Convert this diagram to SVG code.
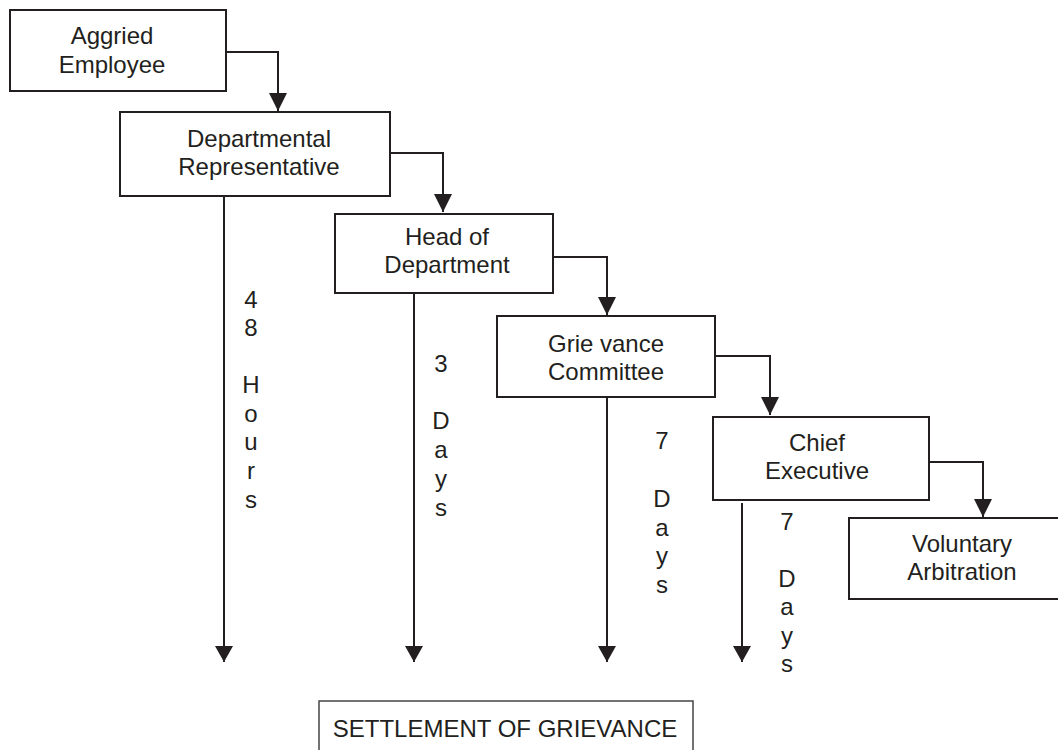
<svg xmlns="http://www.w3.org/2000/svg" width="1058" height="750" viewBox="0 0 1058 750">
<style>
.box{fill:#fff;stroke:#231f20;stroke-width:2}
.lbl{font-family:"Liberation Sans",Arial,sans-serif;font-size:24px;fill:#231f20;text-anchor:middle}
.conn{fill:none;stroke:#231f20;stroke-width:2}
</style>
<defs>
<marker id="ah" markerUnits="userSpaceOnUse" markerWidth="20" markerHeight="20" viewBox="0 0 20 20" refX="19" refY="10" orient="auto">
<path d="M1,1 L19,10 L1,19 Z" fill="#231f20"/>
</marker>
<marker id="av" markerUnits="userSpaceOnUse" markerWidth="18" markerHeight="18" viewBox="0 0 16 18" refX="16" refY="9" orient="auto">
<path d="M0,0 L16,9 L0,18 Z" fill="#231f20"/>
</marker>
</defs>
<rect width="1058" height="750" fill="#fff"/>
<g id="connectors">
<path class="conn" d="M226,52 H278 V111" marker-end="url(#ah)"/>
<path class="conn" d="M390,153 H443 V212" marker-end="url(#ah)"/>
<path class="conn" d="M553,257 H607 V315" marker-end="url(#ah)"/>
<path class="conn" d="M715,356 H770 V415" marker-end="url(#ah)"/>
<path class="conn" d="M929,462 H983 V517" marker-end="url(#ah)"/>
<path class="conn" d="M224,196 V662" marker-end="url(#av)"/>
<path class="conn" d="M414,293 V662" marker-end="url(#av)"/>
<path class="conn" d="M607,397 V662" marker-end="url(#av)"/>
<path class="conn" d="M742,503 V662" marker-end="url(#av)"/>
</g>
<g id="n1">
<rect class="box" x="10" y="10" width="216" height="81"/>
<text class="lbl" x="112" y="44">Aggried</text>
<text class="lbl" x="112" y="73">Employee</text>
</g>
<g id="n2">
<rect class="box" x="120" y="112" width="270" height="84"/>
<text class="lbl" x="259" y="147">Departmental</text>
<text class="lbl" x="259" y="175">Representative</text>
</g>
<g id="n3">
<rect class="box" x="335" y="214" width="218" height="79"/>
<text class="lbl" x="447" y="245">Head of</text>
<text class="lbl" x="447" y="273">Department</text>
</g>
<g id="n4">
<rect class="box" x="497" y="316" width="218" height="81"/>
<text class="lbl" x="606" y="352">Grie vance</text>
<text class="lbl" x="606" y="380">Committee</text>
</g>
<g id="n5">
<rect class="box" x="713" y="417" width="216" height="83"/>
<text class="lbl" x="817" y="451">Chief</text>
<text class="lbl" x="817" y="479">Executive</text>
</g>
<g id="n6">
<rect class="box" x="849" y="518" width="228" height="81"/>
<text class="lbl" x="962" y="552">Voluntary</text>
<text class="lbl" x="962" y="580">Arbitration</text>
</g>
<g id="l1" class="lbl">
<text x="251" y="308">4</text>
<text x="251" y="336">8</text>
<text x="251" y="393">H</text>
<text x="251" y="422">o</text>
<text x="251" y="450">u</text>
<text x="251" y="479">r</text>
<text x="251" y="508">s</text>
</g>
<g id="l2" class="lbl">
<text x="441" y="372">3</text>
<text x="441" y="429">D</text>
<text x="441" y="458">a</text>
<text x="441" y="487">y</text>
<text x="441" y="516">s</text>
</g>
<g id="l3" class="lbl">
<text x="662" y="449">7</text>
<text x="662" y="507">D</text>
<text x="662" y="536">a</text>
<text x="662" y="564">y</text>
<text x="662" y="593">s</text>
</g>
<g id="l4" class="lbl">
<text x="787" y="530">7</text>
<text x="787" y="587">D</text>
<text x="787" y="615">a</text>
<text x="787" y="644">y</text>
<text x="787" y="672">s</text>
</g>
<g id="n7">
<rect x="319" y="701" width="374" height="70" fill="#fff" stroke="#444" stroke-width="1.5"/>
<text class="lbl" x="505" y="737">SETTLEMENT OF GRIEVANCE</text>
</g>
</svg>
